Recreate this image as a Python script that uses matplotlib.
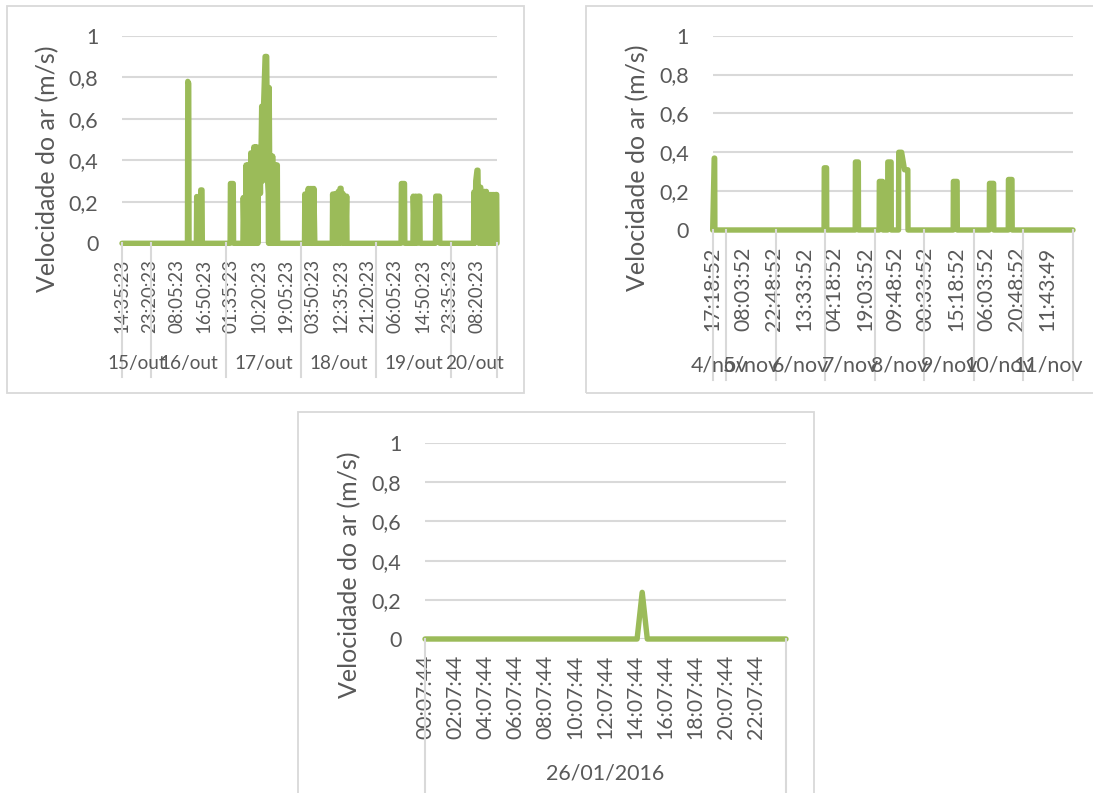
import matplotlib
matplotlib.use("Agg")
import matplotlib.pyplot as plt
from matplotlib.lines import Line2D
from matplotlib.patches import Rectangle

# ---------------- data ----------------
# Panel 1: hours since 15/out 14:35:23, air speed (m/s)
p1_leituras = [
    (0, 0),
    (20.95, 0), (21.05, 0.78), (21.35, 0.77), (21.45, 0),
    (23.8, 0), (23.9, 0.225), (24.0, 0.225), (24.1, 0),
    (25.1, 0), (25.2, 0.257), (25.6, 0.257), (25.7, 0),
    (34.6, 0), (34.7, 0.288), (35.6, 0.288), (35.7, 0),
    (38.7, 0), (38.8, 0.22), (39.1, 0), (39.3, 0.22), (39.5, 0), (39.7, 0.377),
    (40.0, 0), (40.2, 0.377), (40.5, 0), (40.7, 0.377), (41.0, 0), (41.2, 0.435),
    (41.5, 0), (41.7, 0.435), (42.0, 0), (42.2, 0.464), (42.5, 0), (42.7, 0.464),
    (43.0, 0), (43.2, 0.464), (43.5, 0),
    (43.6, 0.24), (44.0, 0.45), (44.3, 0.24), (44.7, 0.66), (45.0, 0.3), (45.3, 0.66),
    (45.8, 0.9), (46.3, 0.9), (46.6, 0.3), (46.8, 0.24), (46.9, 0),
    (47.1, 0.75), (47.4, 0), (47.7, 0.42), (48.0, 0), (48.2, 0.42), (48.5, 0),
    (48.7, 0.377), (49.0, 0), (49.2, 0.377), (49.5, 0), (49.7, 0.377), (49.8, 0),
    (58.4, 0), (58.5, 0.237), (58.8, 0), (59.0, 0.237), (59.3, 0), (59.6, 0.264),
    (59.9, 0), (60.2, 0.264), (60.5, 0), (60.8, 0.264), (61.1, 0), (61.4, 0.264), (61.7, 0),
    (67.3, 0), (67.4, 0.237), (67.7, 0), (68.0, 0.237), (68.3, 0), (68.6, 0.24),
    (68.9, 0), (69.2, 0.25), (69.5, 0), (69.8, 0.265), (70.1, 0.265), (70.4, 0),
    (70.7, 0.24), (71.0, 0), (71.3, 0.227), (71.6, 0), (71.9, 0.227), (72.0, 0),
    (89.3, 0), (89.4, 0.288), (90.4, 0.288), (90.5, 0),
    (93.1, 0), (93.2, 0.227), (93.6, 0), (94.0, 0.227), (94.4, 0), (94.8, 0.227),
    (95.3, 0.227), (95.4, 0),
    (100.3, 0), (100.4, 0.227), (101.6, 0.227), (101.7, 0),
    (112.5, 0), (112.6, 0.247), (112.9, 0), (113.2, 0.3), (113.6, 0.352), (113.9, 0.352),
    (114.2, 0), (114.5, 0.27), (114.8, 0.27), (115.1, 0), (115.4, 0.25), (115.7, 0),
    (116.0, 0.25), (116.3, 0), (116.6, 0.25), (116.9, 0), (117.2, 0.235), (117.5, 0),
    (117.8, 0.235), (118.1, 0), (118.4, 0.235), (118.7, 0), (119.0, 0.235), (119.3, 0),
    (119.6, 0.235), (119.9, 0.235), (120.0, 0),
]
p1_fim = 120.0
p1_passo = 8.75
p1_rotulos = ["14:35:23", "23:20:23", "08:05:23", "16:50:23", "01:35:23", "10:20:23",
              "19:05:23", "03:50:23", "12:35:23", "21:20:23", "06:05:23", "14:50:23",
              "23:35:23", "08:20:23"]
p1_datas = ["15/out", "16/out", "17/out", "18/out", "19/out", "20/out"]
p1_limites = [0, 9.41, 33.41, 57.41, 81.41, 105.41, 120.0]

# Panel 2: hours since 4/nov 17:18:52
p2_leituras = [
    (0, 0), (0.75, 0.37), (0.95, 0.37), (1.05, 0),
    (54.0, 0), (54.1, 0.32), (55.2, 0.32), (55.3, 0),
    (69.1, 0), (69.2, 0.35), (70.6, 0.35), (70.7, 0),
    (80.7, 0), (80.8, 0.25), (82.4, 0.25), (82.5, 0),
    (84.8, 0), (84.9, 0.35), (86.5, 0.35), (86.6, 0),
    (90.1, 0), (90.2, 0.40), (91.6, 0.40), (93.0, 0.31), (94.6, 0.31), (94.7, 0),
    (116.6, 0), (116.7, 0.25), (118.5, 0.25), (118.6, 0),
    (134.1, 0), (134.2, 0.24), (136.2, 0.24), (136.3, 0),
    (143.3, 0), (143.4, 0.26), (145.1, 0.26), (145.2, 0),
    (174.69, 0),
]
p2_fim = 174.69
p2_passo = 14.75
p2_rotulos = ["17:18:52", "08:03:52", "22:48:52", "13:33:52", "04:18:52", "19:03:52",
              "09:48:52", "00:33:52", "15:18:52", "06:03:52", "20:48:52", "11:43:49"]
p2_datas = ["4/nov", "5/nov", "6/nov", "7/nov", "8/nov", "9/nov", "10/nov", "11/nov"]
p2_limites = [0, 6.686, 30.686, 54.686, 78.686, 102.686, 126.686, 150.686, 174.69]

# Panel 3: hours since 26/01/2016 00:07:44
p3_leituras = [(0, 0), (14.1, 0), (14.44, 0.238), (14.78, 0), (24.0, 0)]
p3_fim = 24.0
p3_passo = 2.0
p3_rotulos = ["00:07:44", "02:07:44", "04:07:44", "06:07:44", "08:07:44", "10:07:44",
              "12:07:44", "14:07:44", "16:07:44", "18:07:44", "20:07:44", "22:07:44"]
p3_datas = ["26/01/2016"]
p3_limites = [0, 24.0]

y_ticks = [0, 0.2, 0.4, 0.6, 0.8, 1.0]
y_rotulos = ["0", "0,2", "0,4", "0,6", "0,8", "1"]
titulo_y = "Velocidade do ar (m/s)"

# ---------------- style ----------------
W, H, DPI = 1093, 793, 100
GREEN = "#9BBB59"
GRID = "#D9D9D9"
TXT = "#595959"
plt.rcParams["font.family"] = ["Lato", "DejaVu Sans"]

fig = plt.figure(figsize=(W / DPI, H / DPI), dpi=DPI)
fig.patch.set_facecolor("white")


def fx(x):
    return x / W


def fy(y):
    return 1 - y / H


def borda(x0, y0, x1, y1):
    fig.patches.append(Rectangle((fx(x0), fy(y1)), fx(x1) - fx(x0), fy(y0) - fy(y1),
                                 transform=fig.transFigure, fill=False,
                                 edgecolor=GRID, linewidth=1.3, zorder=0))


def painel(leituras, fim, passo, rotulos, datas, limites,
           left, right, y0, y1, xlab_fs, date_fs, label_top, date_y, sep_bottom,
           title_xy):
    ax = fig.add_axes([fx(left), fy(y0), (right - left) / W, (y0 - y1) / H])
    ax.set_xlim(0, fim)
    ax.set_ylim(0, 1)
    for s in ax.spines.values():
        s.set_visible(False)
    ax.set_yticks(y_ticks)
    ax.set_yticklabels(y_rotulos, fontsize=15.5, color=TXT)
    ax.yaxis.grid(True, color=GRID, linewidth=1.5)
    ax.set_axisbelow(True)
    ax.tick_params(axis="y", length=0, pad=17)
    pos = [i * passo for i in range(len(rotulos))]
    ax.set_xticks(pos)
    ax.set_xticklabels(rotulos, rotation=90, fontsize=xlab_fs, color=TXT)
    ax.tick_params(axis="x", length=0, pad=(label_top - y0) * 0.72)
    hs = [p[0] for p in leituras]
    vs = [p[1] for p in leituras]
    ax.plot(hs, vs, color=GREEN, linewidth=3.9, solid_joinstyle="round",
            solid_capstyle="round", clip_on=False, zorder=3)
    # group separators and date labels
    def xp(h):
        return left + (h / fim) * (right - left)
    for h in limites:
        fig.add_artist(Line2D([fx(xp(h)), fx(xp(h))], [fy(y0), fy(sep_bottom)],
                              transform=fig.transFigure, color=GRID, linewidth=1.5))
    for i, d in enumerate(datas):
        c = (limites[i] + limites[i + 1]) / 2
        fig.text(fx(xp(c)), fy(date_y), d, ha="center", va="center",
                 fontsize=date_fs, color=TXT)
    fig.text(fx(title_xy[0]), fy(title_xy[1]), titulo_y, rotation=90,
             ha="center", va="center", fontsize=18, color=TXT)
    return ax


borda(7.3, 6, 524.3, 393.3)
borda(586, 6, 1100, 393.3)
borda(298, 412.3, 814.3, 800)

painel(p1_leituras, p1_fim, p1_passo, p1_rotulos, p1_datas, p1_limites,
       122, 497, 243.3, 35.7, 13.4, 13.7, 259, 363.3, 377, (47.5, 168.3))
painel(p2_leituras, p2_fim, p2_passo, p2_rotulos, p2_datas, p2_limites,
       712.7, 1073, 230, 35.7, 15.2, 15.4, 246.7, 365.7, 380, (638, 168))
painel(p3_leituras, p3_fim, p3_passo, p3_rotulos, p3_datas, p3_limites,
       425, 786, 639, 443, 15.2, 15.4, 655, 773, 800, (350, 575))

fig.savefig("out.png", dpi=DPI, facecolor="white")
